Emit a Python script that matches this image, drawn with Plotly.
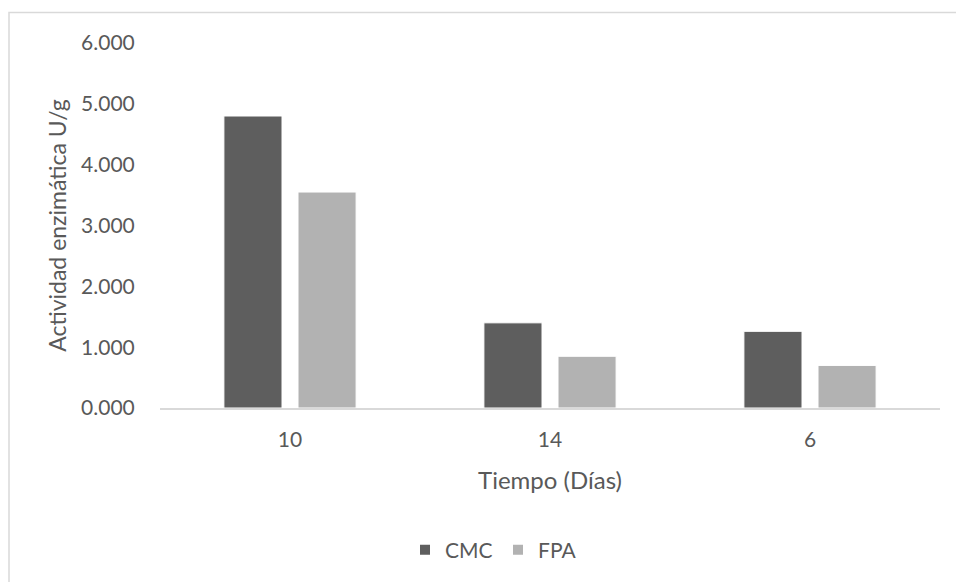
import plotly.graph_objects as go

# Enzyme activity per incubation time
dias = ["10", "14", "6"]
cmc = [4.80, 1.40, 1.26]
fpa = [3.55, 0.85, 0.70]
y_ticks = [0, 1, 2, 3, 4, 5, 6]

font_family = "Lato, 'Open Sans', sans-serif"
text_color = "#595959"
line_color = "#d9d9d9"

fig = go.Figure()
fig.add_trace(go.Bar(
    name="CMC", x=dias, y=cmc,
    marker=dict(color="#5e5e5e", line=dict(color="#ffffff", width=1)),
))
fig.add_trace(go.Bar(
    name="FPA", x=dias, y=fpa,
    marker=dict(color="#b2b2b2", line=dict(color="#ffffff", width=1)),
))

W, H = 956, 582
L, R, T, B = 160, 16, 43, 174
pw, ph = W - L - R, H - T - B

# outer chart frame (extends past the right and bottom edges of the page)
fig.add_shape(
    type="rect", xref="paper", yref="paper",
    x0=(9 - L) / pw, x1=(W + 6 - L) / pw,
    y0=-(H + 6 - T - ph) / ph, y1=1 + (T - 12.5) / ph,
    line=dict(color=line_color, width=1.5), fillcolor="rgba(0,0,0,0)",
    layer="below",
)

fig.update_layout(
    width=W, height=H,
    margin=dict(l=L, r=R, t=T, b=B, pad=0),
    paper_bgcolor="white", plot_bgcolor="white",
    font=dict(family=font_family, color=text_color, size=21),
    barmode="group", bargap=0.43, bargroupgap=0.216,
    showlegend=True,
    legend=dict(
        orientation="h", x=(405 - L) / pw, xanchor="left",
        y=-(550 - 408) / ph, yanchor="middle",
        font=dict(size=21, color=text_color),
        entrywidth=48, entrywidthmode="pixels",
        itemsizing="constant", traceorder="normal",
        bgcolor="rgba(0,0,0,0)",
    ),
    xaxis=dict(
        type="category",
        showline=True, linecolor=line_color, linewidth=1.5,
        showgrid=False, zeroline=False,
        ticks="outside", ticklen=12, tickcolor="rgba(0,0,0,0)",
        tickfont=dict(size=21, color=text_color),
        title=dict(text="Tiempo (Días)", font=dict(size=24, color=text_color), standoff=22),
    ),
    yaxis=dict(
        range=[0, 6], tickvals=y_ticks, tickformat=".3f",
        showline=False, showgrid=False, zeroline=False,
        ticks="outside", ticklen=20, tickcolor="rgba(0,0,0,0)",
        tickfont=dict(size=21, color=text_color),
        title=dict(text="Actividad enzimática U/g", font=dict(size=23, color=text_color), standoff=8),
    ),
)

fig.write_html("out.html")
